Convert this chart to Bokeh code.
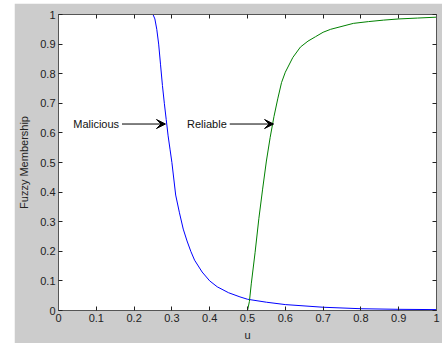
from bokeh.plotting import figure
from bokeh.models import Range1d, LinearAxis, Arrow, VeeHead, Label, FixedTicker
from bokeh.embed import file_html
from bokeh.resources import INLINE

# Malicious membership (blue)
mal_u = [0, 0.25, 0.255, 0.26, 0.265, 0.27, 0.275, 0.28, 0.285, 0.29, 0.295, 0.30,
         0.31, 0.32, 0.33, 0.34, 0.35, 0.36, 0.38, 0.40, 0.42, 0.45, 0.48, 0.5,
         0.55, 0.6, 0.7, 0.8, 0.9, 1.0]
mal_v = [1, 1, 0.985, 0.95, 0.90, 0.83, 0.76, 0.70, 0.645, 0.59, 0.545, 0.50,
         0.39, 0.33, 0.275, 0.235, 0.20, 0.17, 0.13, 0.10, 0.08, 0.06, 0.046, 0.038,
         0.028, 0.020, 0.011, 0.006, 0.004, 0.003]

# Reliable membership (green)
rel_u = [0, 0.5, 0.505, 0.51, 0.52, 0.53, 0.54, 0.55, 0.56, 0.57, 0.58, 0.59, 0.60,
         0.62, 0.64, 0.66, 0.68, 0.70, 0.72, 0.75, 0.78, 0.82, 0.86, 0.9, 0.95, 1.0]
rel_v = [0, 0, 0.03, 0.09, 0.195, 0.31, 0.41, 0.505, 0.585, 0.655, 0.715, 0.77, 0.805,
         0.855, 0.89, 0.91, 0.925, 0.94, 0.95, 0.96, 0.97, 0.976, 0.981, 0.985, 0.988, 0.991]

ticks = [0, 0.1, 0.2, 0.3, 0.4, 0.5, 0.6, 0.7, 0.8, 0.9, 1]
tick_labels = {0: "0", 0.1: "0.1", 0.2: "0.2", 0.3: "0.3", 0.4: "0.4", 0.5: "0.5",
               0.6: "0.6", 0.7: "0.7", 0.8: "0.8", 0.9: "0.9", 1: "1"}

# Annotations: (text, text_x, y, arrow_start_x, arrow_end_x)
ann_mal = ("Malicious", 0.039, 0.63, 0.168, 0.283)
ann_rel = ("Reliable", 0.340, 0.63, 0.453, 0.569)

GRAY = "#cccccc"
FONT = "Liberation Sans"

p = figure(width=428, height=340, output_backend="svg", toolbar_location=None,
           x_range=Range1d(0, 1), y_range=Range1d(0, 1),
           min_border_left=44, min_border_right=6, min_border_top=11, min_border_bottom=31,
           background_fill_color="white", border_fill_color=GRAY, outline_line_color=None)
p.margin = (3, 0, 0, 14)
p.grid.visible = False

for ax in [p.xaxis[0], p.yaxis[0]]:
    ax.ticker = FixedTicker(ticks=ticks)
    ax.major_label_overrides = tick_labels
    ax.major_tick_in = 4
    ax.major_tick_out = 0
    ax.minor_tick_line_color = None
    ax.axis_line_color = "#555555"
    ax.major_tick_line_color = "#222222"
    ax.major_label_text_font = FONT
    ax.major_label_text_font_size = "11px"
    ax.major_label_text_color = "#222222"
    ax.axis_label_text_font = FONT
    ax.axis_label_text_font_size = "11px"
    ax.axis_label_text_font_style = "normal"
    ax.axis_label_text_color = "#222222"

p.xaxis[0].major_label_standoff = 3
p.yaxis[0].major_label_standoff = 3
p.xaxis[0].axis_label = "u"
p.xaxis[0].axis_label_standoff = 4
p.yaxis[0].axis_label = "Fuzzy Membership"
p.yaxis[0].axis_label_standoff = 7

for loc in ["above", "right"]:
    a = LinearAxis(ticker=FixedTicker(ticks=ticks), major_label_text_color=None,
                   major_tick_in=4, major_tick_out=0, minor_tick_line_color=None,
                   axis_line_color="#555555", major_tick_line_color="#222222",
                   major_label_standoff=0, major_label_text_font_size="1px")
    p.add_layout(a, loc)

p.line(mal_u, mal_v, line_color="#0000ff", line_width=1)
p.line(rel_u, rel_v, line_color="#008000", line_width=1)

for txt, tx, ty, ax0, ax1 in [ann_mal, ann_rel]:
    p.add_layout(Label(x=tx, y=ty, text=txt, text_font=FONT, text_font_size="11px",
                       text_color="#111111", text_baseline="middle", text_align="left"))
    p.add_layout(Arrow(x_start=ax0, y_start=ty, x_end=ax1, y_end=ty, line_color="black",
                       line_width=1,
                       end=VeeHead(size=9, fill_color="black", line_color="black")))

open("out.html", "w").write(file_html(p, INLINE))
